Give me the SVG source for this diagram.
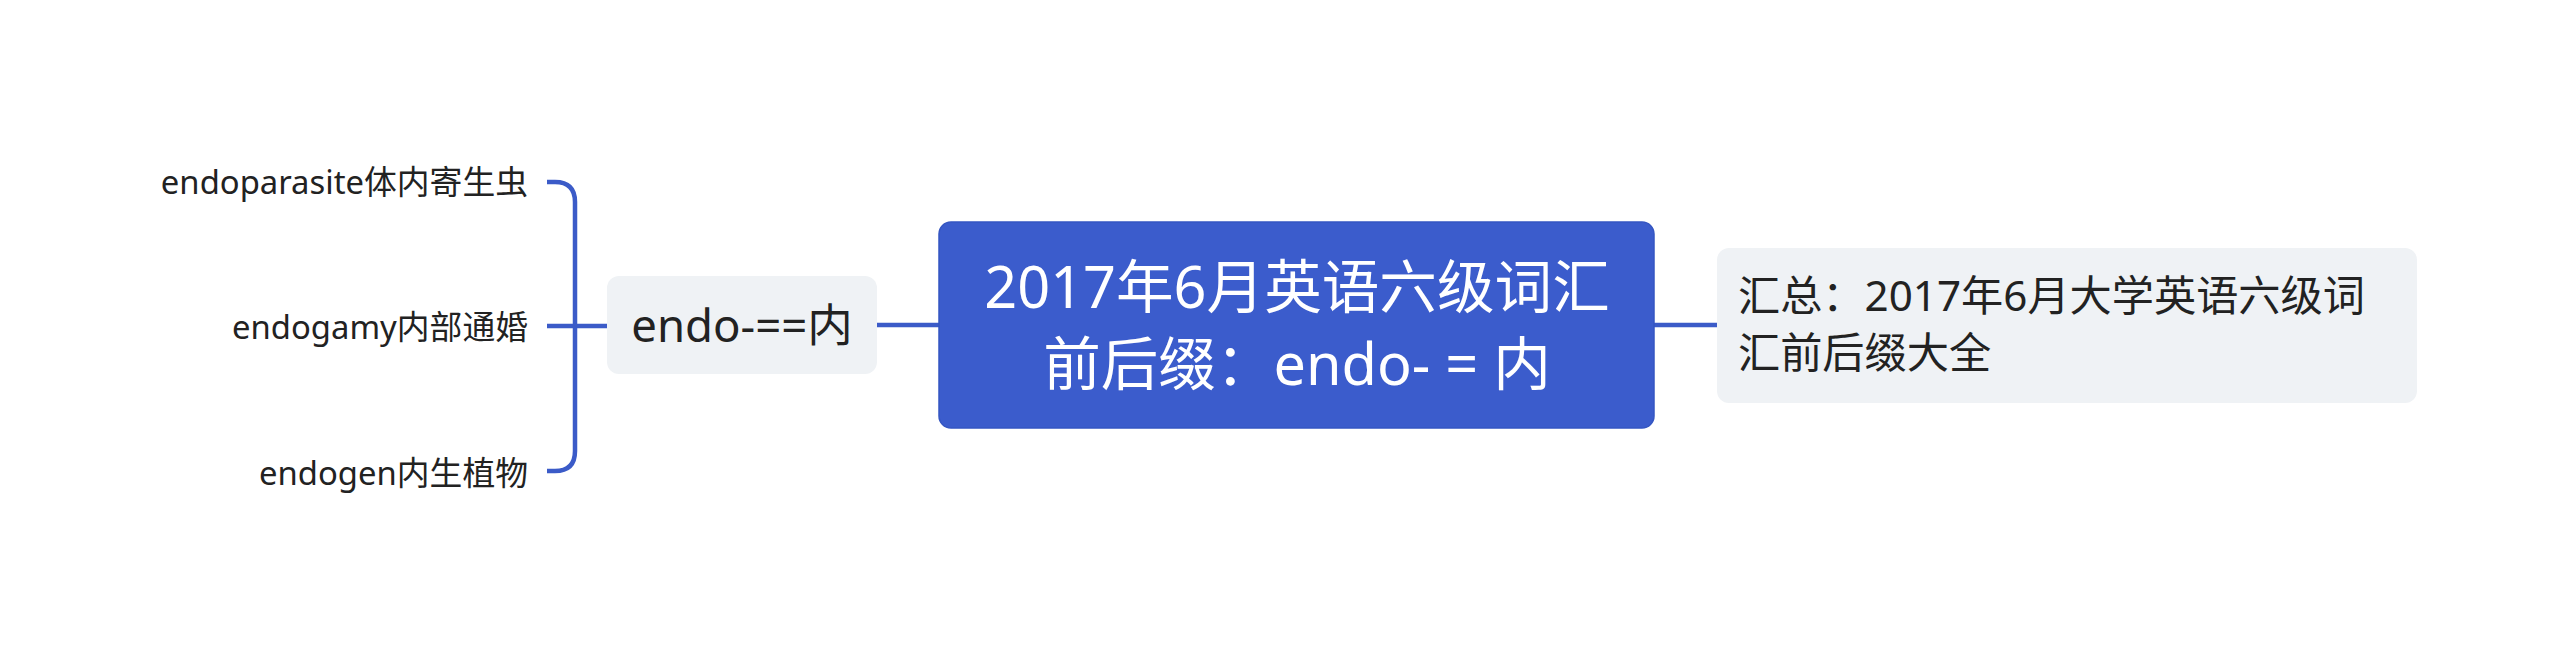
<svg xmlns="http://www.w3.org/2000/svg" width="2560" height="651" viewBox="0 0 2560 651">
  <style>
    .t { font-family: "Noto Sans", "Noto Sans CJK SC", sans-serif; fill: #222222; }
    .line { fill: none; stroke: #3b5bc8; stroke-width: 4.5; stroke-linecap: butt; }
    .sub { fill: #eff2f5; }
  </style>
  <rect width="2560" height="651" fill="#ffffff"/>
  <g id="connectors">
    <path class="line" d="M547,182 H555 Q575,182 575,202 V451 Q575,471 555,471 H547"/>
    <path class="line" d="M547,326 H607"/>
    <path class="line" d="M877,325 H939"/>
    <path class="line" d="M1654,325 H1717"/>
  </g>
  <g id="root">
    <rect x="939" y="222" width="715" height="206" rx="12" fill="#3b5ccc" stroke="#3556c2" stroke-width="1.5"/>
    <text class="t" x="1297" y="308" font-size="57.6" text-anchor="middle" style="fill:#ffffff">2017年6月英语六级词汇</text>
    <text class="t" x="1297" y="385" font-size="57.6" text-anchor="middle" style="fill:#ffffff">前后缀：endo- = 内</text>
  </g>
  <g id="endo">
    <rect class="sub" x="607" y="276" width="270" height="98" rx="12"/>
    <text class="t" x="742" y="342" font-size="45.5" text-anchor="middle">endo-==内</text>
  </g>
  <g id="summary">
    <rect class="sub" x="1717" y="248" width="700" height="155" rx="12"/>
    <text class="t" x="1738" y="311" font-size="42.2">汇总：2017年6月大学英语六级词</text>
    <text class="t" x="1738" y="368" font-size="42.2">汇前后缀大全</text>
  </g>
  <g id="leaf1">
    <text class="t" x="528" y="194" font-size="32.8" text-anchor="end">endoparasite体内寄生虫</text>
  </g>
  <g id="leaf2">
    <text class="t" x="528" y="339" font-size="32.8" text-anchor="end">endogamy内部通婚</text>
  </g>
  <g id="leaf3">
    <text class="t" x="528" y="485" font-size="32.8" text-anchor="end">endogen内生植物</text>
  </g>
</svg>
